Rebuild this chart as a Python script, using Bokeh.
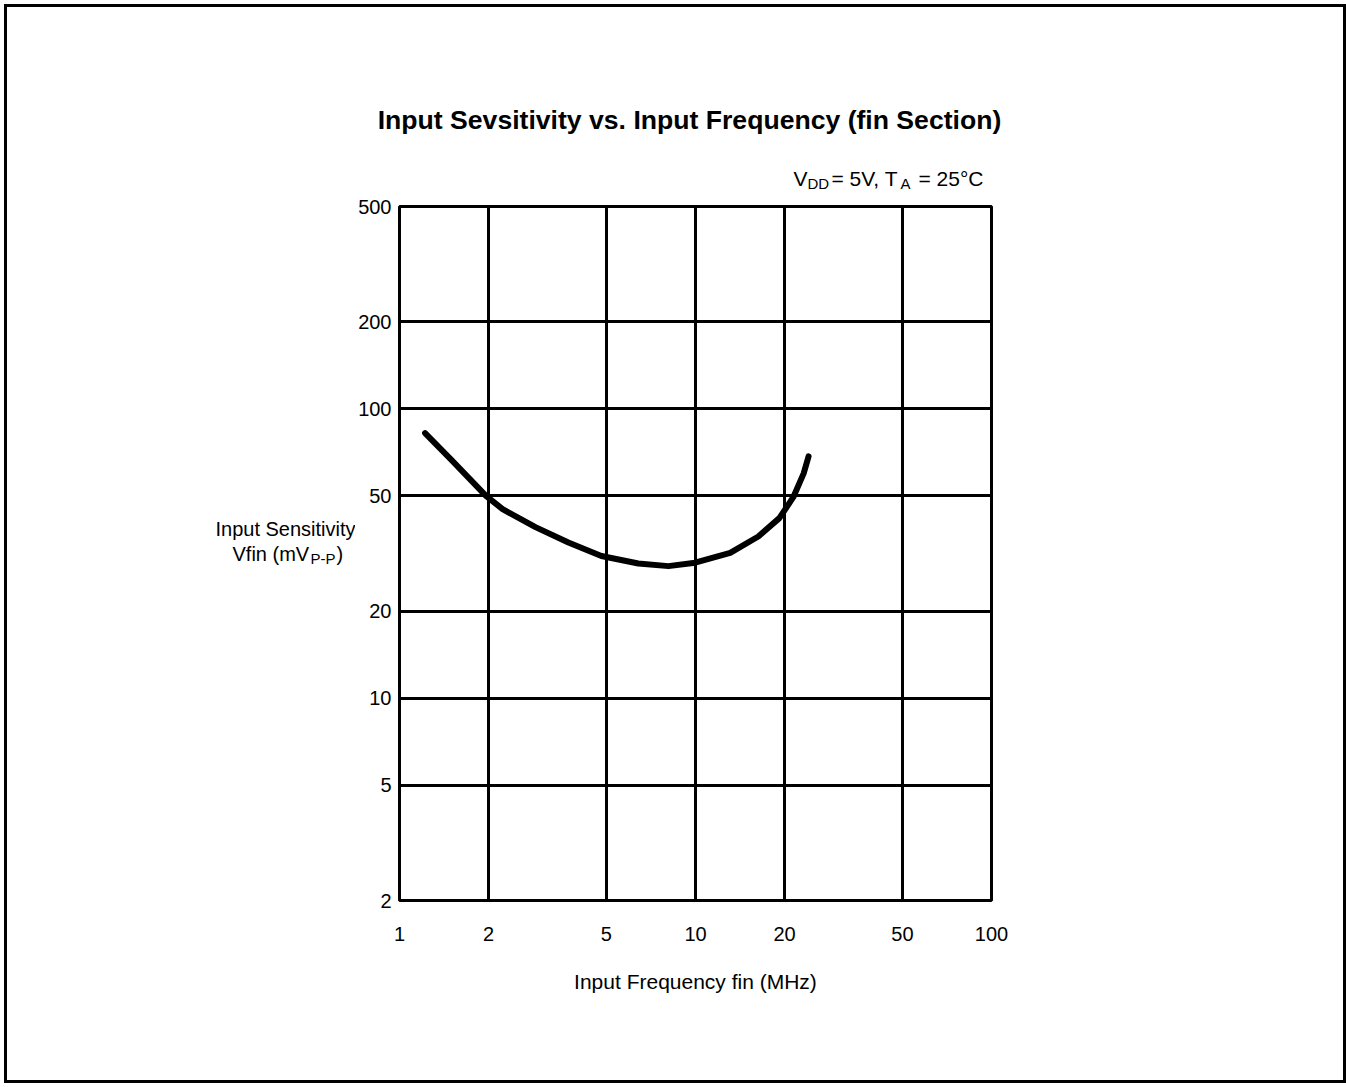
from bokeh.plotting import figure
from bokeh.models import FixedTicker, Label, Range1d, NumeralTickFormatter
from bokeh.layouts import column, row
from bokeh.embed import file_html
from bokeh.resources import INLINE

# data (relative to its grid)
freq_mhz = [1.22, 1.50, 1.96, 2.23, 2.88, 3.72, 4.81, 6.41, 8.10, 9.97, 13.1, 16.3, 19.2, 21.4, 23.2, 24.1]
vfin_mvpp = [82.4, 66.5, 50.0, 45.0, 39.0, 34.5, 31.0, 29.2, 28.6, 29.4, 31.8, 36.2, 41.9, 49.5, 59.8, 68.5]

x_ticks = [1, 2, 5, 10, 20, 50, 100]
y_ticks = [2, 5, 10, 20, 50, 100, 200, 500]

FONT = "Liberation Sans"

CW, HH, BH, SW = 1336, 187, 886, 348   # content width, header h, body h, side w


def blank(w, h, xr, yr):
    # text-only panel whose data coordinates are page pixels
    f = figure(width=w, height=h, x_range=Range1d(*xr), y_range=Range1d(*yr),
               output_backend="svg", toolbar_location=None,
               x_axis_location=None, y_axis_location=None, min_border=0)
    f.grid.visible = False
    f.outline_line_color = None
    f.background_fill_color = "white"
    f.border_fill_color = "white"
    return f


def lab(f, x, y, text, size, align="left", style="normal"):
    f.add_layout(Label(x=x, y=y, text=text, text_font=FONT, text_font_size=size,
                       text_align=align, text_baseline="middle",
                       text_font_style=style, text_color="black"))


# ---- header: title and conditions
head = blank(CW, HH, (7, 7 + CW), (7 + HH, 7))
lab(head, 689, 119, "Input Sevsitivity vs. Input Frequency (fin Section)", "26.6px",
    align="center", style="bold")
lab(head, 793, 178, "V", "21px")
lab(head, 807, 183.4, "DD", "15px")
lab(head, 831, 178, "= 5V, T", "21px")
lab(head, 900, 183.4, "A", "15px")
lab(head, 918, 178, "= 25°C", "21px")

# ---- side: y axis label (its frame lines up with the chart frame: y 206..900)
side = blank(SW, BH, (7, 7 + SW), (900, 206))
lab(side, 285, 528, "Input Sensitivity", "20px", align="center")
lab(side, 232, 553, "Vfin (mV", "20px")
lab(side, 310, 558, "P-P", "15px")
lab(side, 336, 553, ")", "20px")

# ---- main chart
p = figure(width=CW - SW, height=BH, x_axis_type="log", y_axis_type="log",
           x_range=Range1d(1, 100), y_range=Range1d(2, 500),
           output_backend="svg", toolbar_location=None,
           min_border_left=44, min_border_right=352,
           min_border_top=12, min_border_bottom=180)
p.outline_line_color = "black"
p.outline_line_width = 3
p.background_fill_color = "white"
p.border_fill_color = "white"

for ax, ticks in ((p.xaxis, x_ticks), (p.yaxis, y_ticks)):
    ax.ticker = FixedTicker(ticks=ticks)
    ax.formatter = NumeralTickFormatter(format="0")
    ax.axis_line_color = None
    ax.major_tick_line_color = None
    ax.minor_tick_line_color = None
    ax.major_label_text_font = FONT
    ax.major_label_text_font_size = "20px"
    ax.major_label_text_color = "black"

p.xaxis.major_label_standoff = 20
p.yaxis.major_label_standoff = 2
p.xaxis.axis_label = "Input Frequency fin (MHz)"
p.xaxis.axis_label_text_font = FONT
p.xaxis.axis_label_text_font_size = "21px"
p.xaxis.axis_label_text_font_style = "normal"
p.xaxis.axis_label_text_color = "black"
p.xaxis.axis_label_standoff = 26

p.xgrid.ticker = FixedTicker(ticks=x_ticks)
p.ygrid.ticker = FixedTicker(ticks=y_ticks)
for g in (p.xgrid, p.ygrid):
    g.grid_line_color = "black"
    g.grid_line_width = 3
    g.grid_line_alpha = 1

p.line(freq_mhz, vfin_mvpp, line_color="black", line_width=6,
       line_cap="round", line_join="round")

page = column(head, row(side, p, spacing=0), spacing=0,
              styles={"border": "3px solid black", "margin-left": "4px",
                      "margin-top": "4px"})

open("out.html", "w").write(file_html(page, INLINE))
